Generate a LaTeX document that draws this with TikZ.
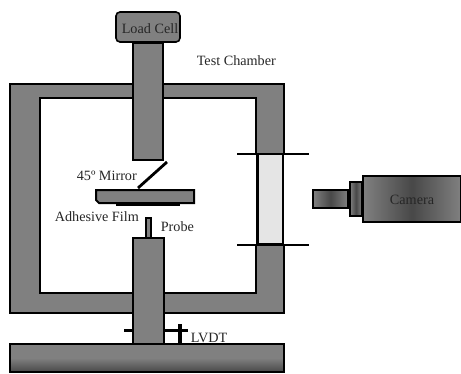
\documentclass[tikz,border=0pt]{standalone}
\usepackage{fontspec}
\setmainfont{Liberation Serif}
\definecolor{partgray}{HTML}{808080}
\definecolor{darkgray}{HTML}{484848}
\begin{document}
\begin{tikzpicture}[x=1pt, y=-1pt, line width=1.6pt,
    part/.style={draw=black, fill=partgray},
    cam/.style={draw=black, left color=partgray, right color=partgray, middle color=darkgray},
    lbl/.style={font=\fontsize{14.2}{16}\selectfont, text=black!85, inner sep=0pt}]
    \useasboundingbox (0,0) rectangle (461,373);

    % Chamber
    \draw[part, even odd rule] (10,84) rectangle (284,313) (40,98) rectangle (256,293);
    \draw[draw=none, fill=white] (240,154) rectangle (300,245);
    \draw[fill=black!10, draw=none] (257,154) rectangle (283,245);
    \draw[line width=3pt] (257,154) -- (257,245);
    \draw (283,154) -- (283,245);
    \draw[line width=2.6pt] (257,244.5) -- (283,244.5);
    \draw (237,154) -- (309,154);
    \draw (237,245) -- (309,245);

    % Load cell and upper column
    \draw[part] (133,43) rectangle (163,160);
    \draw[part, rounded corners=4pt] (116,12) rectangle (180,42);
    \node[lbl] (loadcell) at (150,29) {Load Cell};

    % Mirror and plate
    \draw[line width=2.8pt] (167,162) -- (138,188);
    \draw[part, line width=2pt] (96,190) -- (194,190) -- (194,203) -- (99,203) -- (96,200) -- cycle;
    \draw[line width=3pt] (116,204) -- (180,204);

    % Probe and lower column
    \draw[part, line width=1.4pt] (146,218) rectangle (151,240);
    \draw[part] (133,238) rectangle (164,344);

    % LVDT
    \draw[line width=3pt] (124,330) -- (133,330);
    \draw[line width=3pt] (164,330) -- (188,330);
    \draw[line width=3.2pt] (180,324) -- (180,344);

    % Base
    \draw[draw=black, top color=partgray, bottom color=darkgray, middle color=partgray] (10,344) rectangle (284,372);

    % Camera
    \draw[cam] (313,190) rectangle (348,208);
    \draw[cam] (350,182) rectangle (362,216);
    \draw[cam] (363,176) -- (461,176) -- (461,222) -- (363,222) -- (363,218) -- (363,180) -- cycle;
    \node[lbl] (camera) at (412,200) {Camera};

    % Labels
    \node[lbl, anchor=west] (chamber) at (196,61) {Test Chamber};
    \node[lbl, anchor=west] (mirror) at (76,176) {45º Mirror};
    \node[lbl, anchor=west] (film) at (54,217) {Adhesive Film};
    \node[lbl, anchor=west] (probe) at (160,227) {Probe};
    \node[lbl, anchor=west] (lvdt) at (190,338) {LVDT};
\end{tikzpicture}
\end{document}
